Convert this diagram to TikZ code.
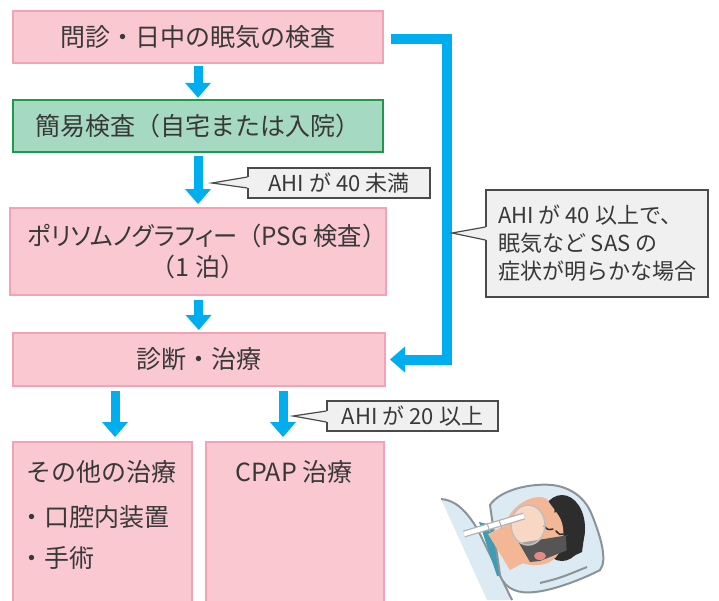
\documentclass[tikz,border=0pt]{standalone}
\usepackage{fontspec}
\setmainfont{Noto Sans CJK JP}
\newfontfamily\kana[RawFeature=+palt]{Noto Sans CJK JP}
\usetikzlibrary{arrows.meta}

\definecolor{pinkfill}{HTML}{F9C8D1}
\definecolor{pinkline}{HTML}{F4A2B8}
\definecolor{greenfill}{HTML}{A6D9C1}
\definecolor{greenline}{HTML}{1F9A4C}
\definecolor{notefill}{HTML}{F0F0F0}
\definecolor{noteline}{HTML}{4A4A4A}
\definecolor{flowblue}{HTML}{00AEEF}
\definecolor{txt}{HTML}{383838}
\definecolor{skin}{HTML}{F3B796}
\definecolor{hair}{HTML}{2D2D2D}
\definecolor{pillow}{HTML}{DCEBF3}
\definecolor{pillowline}{HTML}{8C9397}
\definecolor{shirt}{HTML}{3E9CB3}
\definecolor{strap}{HTML}{555555}
\definecolor{mouth}{HTML}{E48A86}

\newcommand{\mainsize}{\fontsize{25}{31}\selectfont}
\newcommand{\notesize}{\fontsize{22}{28}\selectfont}

\begin{document}
\begin{tikzpicture}[x=1pt, y=-1pt]

\tikzstyle{every node} = [inner sep=0pt, text=txt]
\tikzstyle{pinkbox} = [rectangle, draw=pinkline, fill=pinkfill, line width=2pt, font=\mainsize]
\tikzstyle{greenbox} = [rectangle, draw=greenline, fill=greenfill, line width=2.5pt, font=\mainsize]
\tikzstyle{note} = [rectangle, draw=noteline, fill=notefill, line width=1.2pt, font=\notesize]
\tikzstyle{noteedge} = [draw=noteline, line width=1.2pt]
\tikzstyle{flow} = [draw=flowblue, line width=9pt, -{Triangle[width=26pt, length=15pt, line width=0pt]}]

\useasboundingbox (0,0) rectangle (719,600);
\clip (0,0) rectangle (719,600);

\node[pinkbox, minimum width=370pt, minimum height=52pt] (a) at (198,37) {問診・日中の眠気の検査};
\node[greenbox, minimum width=370pt, minimum height=52pt] (b) at (198,126) {簡易検査（自宅または入院）};
\node[pinkbox, minimum width=370pt, minimum height=87pt, align=center] (c) at (198,251.5)
  {\hspace*{18pt}\scalebox{0.97}[1]{{\kana ポリソムノグラフィー}（PSG 検査）}\\（1 泊）};
\node[pinkbox, minimum width=372pt, minimum height=53pt] (d) at (199,359.5) {診断・治療};

% treatment boxes run off the bottom edge
\node[pinkbox, minimum width=179pt, minimum height=170pt] (e) at (102.5,527) {};
\node[pinkbox, minimum width=178pt, minimum height=170pt] (f) at (295,527) {};

\node[font=\mainsize, anchor=west] (e1) at (26,472) {その他の治療};
\node[font=\mainsize, anchor=west] (e2) at (19,517) {・口腔内装置};
\node[font=\mainsize, anchor=west] (e3) at (19,558) {・手術};
\node[font=\mainsize] (f1) at (294,472) {CPAP 治療};

\draw[flow, shorten <=2pt, shorten >=1pt] (a) -- (b);
\draw[flow, shorten <=3pt, shorten >=3pt] (b) -- (c);
\draw[flow, shorten <=4pt, shorten >=2pt] (c) -- (d);

\coordinate (l) at (115,0);
\coordinate (r) at (283,0);
\draw[flow, shorten <=4pt, shorten >=4pt] (l |- d.south) -- (l |- e.north);
\draw[flow, shorten <=4pt, shorten >=4pt] (r |- d.south) -- (r |- f.north);

% bypass from the interview straight to diagnosis
\coordinate (k) at (447,359.5);
\draw[flow, line width=10pt, shorten >=4pt] ([shift={(7pt,-2pt)}]a.east) -| (k) -- (d.east);

% callouts
\node[note, minimum width=182pt, minimum height=30pt] (p) at (339,183) {AHI が 40 未満};
\coordinate (t1) at (212,183);
\fill[notefill] (t1) -- ([shift={(1.5pt,6pt)}]p.west) -- ([shift={(1.5pt,-5pt)}]p.west) -- cycle;
\draw[noteedge] ([yshift=6pt]p.west) -- (t1) -- ([yshift=-5pt]p.west);

\node[note, minimum width=222pt, minimum height=107pt, align=left, inner sep=12pt] (q) at (597,243.5)
  {AHI が 40 以上で、\\眠気など SAS の\\症状が明らかな場合};
\coordinate (t2) at (452,233);
\fill[notefill] (t2) -- ([shift={(1.5pt,16.5pt)}]q.west) -- ([shift={(1.5pt,3.5pt)}]q.west) -- cycle;
\draw[noteedge] ([yshift=16.5pt]q.west) -- (t2) -- ([yshift=3.5pt]q.west);

\node[note, minimum width=171pt, minimum height=30pt] (s) at (412.5,416) {AHI が 20 以上};
\coordinate (t3) at (293,416);
\fill[notefill] (t3) -- ([shift={(1.5pt,5pt)}]s.west) -- ([shift={(1.5pt,-6pt)}]s.west) -- cycle;
\draw[noteedge] ([yshift=5pt]s.west) -- (t3) -- ([yshift=-6pt]s.west);

% sleeper with CPAP mask
\fill[pillow] (441,499) .. controls (455,500) and (466,510) .. (478,530) -- (512,600) -- (487,600) -- cycle;
\draw[pillowline, line width=2pt] (441,499) .. controls (455,500) and (466,510) .. (478,530) -- (512,600);
\fill[shirt] (479,522) -- (500,527) -- (514,560) -- (511,576) -- (497,576) -- cycle;
\filldraw[fill=pillow, draw=pillowline, line width=2pt]
  (490,505) .. controls (500,490) and (530,483) .. (552,485)
  .. controls (570,487) and (585,497) .. (592,515)
  .. controls (600,535) and (608,560) .. (600,570)
  .. controls (585,578) and (555,590) .. (535,592)
  .. controls (520,594) and (505,590) .. (500,575) -- cycle;
\draw[pillowline, line width=2pt] (540,583) .. controls (560,578) .. (587,567);
\fill[skin] (488,534) -- (508,524) -- (531,559) -- (510,570) -- cycle;
\fill[hair] (562,528) ellipse [x radius=23, y radius=33];
\fill[skin] (506,522) .. controls (514,501) and (538,493) .. (547,499)
  .. controls (552,508) and (562,516) .. (563,528)
  .. controls (565,545) and (560,557) .. (548,563)
  .. controls (530,569) and (510,562) .. (505,546) -- cycle;
\fill[strap] (519,543) -- (575,534) -- (580,545) -- (540,561) -- (530,562) -- cycle;
\fill[hair] (566,536) -- (585,530) -- (582,552) -- (567,559) -- cycle;
\fill[mouth] (540,556) ellipse [x radius=6, y radius=4];
\draw[hair, line width=1.5pt, line cap=round] (552,504) .. controls (556,507) .. (555,512);
\draw[hair, line width=1.5pt, line cap=round] (544,526) .. controls (548,530) .. (553,529);
\draw[hair, line width=1.5pt, line cap=round] (556,531) .. controls (560,535) .. (563,534);
\filldraw[fill=white, fill opacity=0.45, draw=gray!50, line width=1.5pt] (528,525) ellipse [x radius=17, y radius=20];
\draw[gray!60, line width=7pt] (464,534) -- (524,516);
\draw[white, line width=4.5pt] (464,534) -- (524,516);
\draw[gray!60, line width=1pt] (487,523) -- (490,532) (499,520) -- (502,529);

\end{tikzpicture}
\end{document}
